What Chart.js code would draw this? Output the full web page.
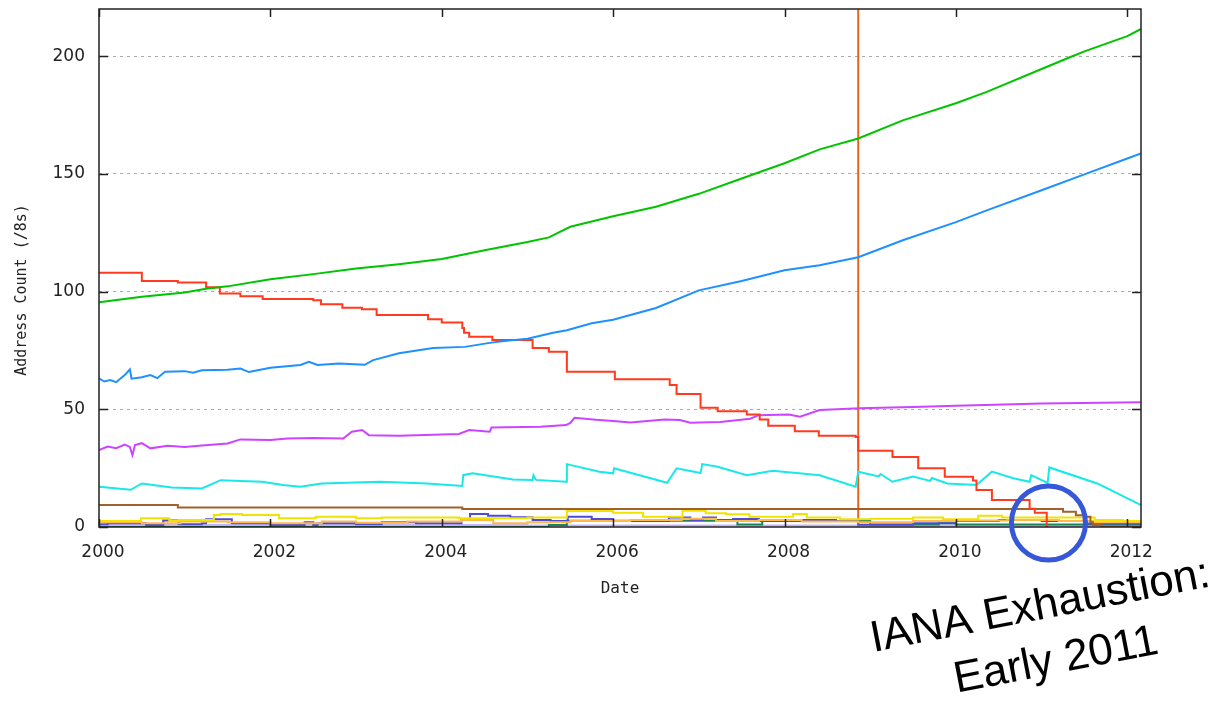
<!DOCTYPE html>
<html>
<head>
<meta charset="utf-8">
<script src="https://cdn.jsdelivr.net/npm/chart.js@4.4.1/dist/chart.umd.min.js"></script>
<style>
  html, body { margin: 0; padding: 0; background: #fff; }
  #wrap { width: 1219px; height: 702px; position: relative; }
</style>
</head>
<body>
<div id="wrap"><canvas id="addrChart"></canvas></div>
<script>
// tick labels
const xTicks = [2000, 2002, 2004, 2006, 2008, 2010, 2012];
const yTicks = [0, 50, 100, 150, 200];

// series: [year, count of /8s]
const allocated = [
  [2000.0, 95.4], [2000.5, 97.8], [2001.0, 99.6], [2001.25, 101.2], [2001.5, 102.2],
  [2002.0, 105.2], [2002.5, 107.4], [2003.0, 109.8], [2003.5, 111.6], [2004.0, 113.8],
  [2004.5, 117.5], [2005.0, 121], [2005.25, 123], [2005.5, 127.5], [2006.0, 132],
  [2006.5, 136], [2007.0, 141.5], [2007.5, 148], [2008.0, 154.5], [2008.41, 160.4],
  [2008.86, 165], [2009.38, 172.7], [2010.0, 180], [2010.36, 184.8], [2011.0, 194.5],
  [2011.33, 199.5], [2011.5, 202], [2012.0, 208.5], [2012.16, 211.5]
];
const advertised = [
  [2000.0, 63.1], [2000.06, 61.8], [2000.13, 62.4], [2000.2, 61.5], [2000.3, 64.5],
  [2000.36, 66.9], [2000.38, 63], [2000.5, 63.6], [2000.6, 64.5], [2000.68, 63.2],
  [2000.77, 65.9], [2001.0, 66.2], [2001.1, 65.5], [2001.2, 66.6], [2001.5, 66.8],
  [2001.65, 67.3], [2001.75, 65.8], [2002.0, 67.6], [2002.35, 68.8], [2002.45, 70.2],
  [2002.55, 68.8], [2002.8, 69.4], [2003.1, 68.9], [2003.2, 70.9], [2003.5, 73.8],
  [2003.9, 76], [2004.27, 76.5], [2004.56, 78.2], [2004.7, 78.9], [2005.0, 80],
  [2005.3, 82.5], [2005.46, 83.6], [2005.75, 86.5], [2006.0, 88], [2006.5, 93],
  [2007.0, 100.5], [2007.5, 104.5], [2008.0, 109], [2008.41, 111.2], [2008.86, 114.6],
  [2009.38, 121.8], [2010.0, 129.5], [2010.36, 134.5], [2011.0, 143], [2011.53, 150.2],
  [2012.0, 156.5], [2012.16, 158.7]
];
const ianaPool = [
  [2000.0, 108], [2000.5, 104.5], [2000.92, 103.8], [2001.25, 101.8], [2001.41, 99.2],
  [2001.65, 98], [2001.91, 96.8], [2002.5, 96.3], [2002.59, 94.6], [2002.84, 93.1],
  [2003.07, 92.5], [2003.24, 90], [2003.84, 88.2], [2004.0, 86.9], [2004.24, 84.5],
  [2004.26, 82.5], [2004.32, 80.8], [2004.59, 79.4], [2005.06, 76], [2005.25, 74.4],
  [2005.46, 65.9], [2006.02, 62.8], [2006.66, 60.3], [2006.74, 56.5], [2007.02, 50.6],
  [2007.22, 49.2], [2007.56, 47.8], [2007.71, 45.7], [2007.81, 43], [2008.12, 40.7],
  [2008.4, 38.8], [2008.83, 38.2], [2008.86, 32.4], [2009.26, 29.7], [2009.56, 25],
  [2009.87, 21.3], [2010.2, 19.8], [2010.24, 15.7], [2010.42, 11.5], [2010.86, 7.8],
  [2010.92, 6.1], [2011.06, 6.1], [2011.06, 0]
];
const unadvertised = [
  [2000.0, 32.7], [2000.1, 34.2], [2000.2, 33.5], [2000.3, 35], [2000.36, 34],
  [2000.39, 30.5], [2000.42, 34.8], [2000.5, 35.6], [2000.6, 33.4], [2000.8, 34.5],
  [2001.0, 34], [2001.2, 34.6], [2001.5, 35.5], [2001.65, 37.2], [2002.0, 36.9],
  [2002.2, 37.6], [2002.5, 37.8], [2002.85, 37.6], [2002.95, 40.5], [2003.07, 41.2],
  [2003.15, 39], [2003.5, 38.8], [2004.2, 39.5], [2004.32, 41.2], [2004.56, 40.5],
  [2004.58, 42.3], [2005.15, 42.6], [2005.45, 43.3], [2005.5, 44.2], [2005.55, 46.4],
  [2005.8, 45.5], [2006.0, 45], [2006.2, 44.4], [2006.6, 45.7], [2006.78, 45.4],
  [2006.9, 44.3], [2007.25, 44.6], [2007.6, 46], [2007.7, 47.5], [2008.05, 47.8],
  [2008.18, 46.8], [2008.41, 49.7], [2008.88, 50.4], [2009.5, 51], [2010.0, 51.5],
  [2011.0, 52.5], [2012.16, 53]
];
const rirPool = [
  [2000.0, 17.1], [2000.37, 15.8], [2000.5, 18.5], [2000.85, 16.8], [2001.2, 16.4],
  [2001.42, 19.9], [2001.9, 19.2], [2002.15, 17.8], [2002.35, 17.1], [2002.6, 18.5],
  [2003.28, 19.2], [2003.83, 18.5], [2004.24, 17.4], [2004.25, 22], [2004.36, 22.8],
  [2004.83, 20.2], [2005.06, 20], [2005.07, 22], [2005.1, 20], [2005.45, 19.2],
  [2005.46, 26.7], [2005.84, 23.5], [2006.0, 22.8], [2006.01, 24.9], [2006.63, 18.8],
  [2006.74, 24.9], [2007.02, 22.9], [2007.04, 26.7], [2007.22, 25.6], [2007.56, 22],
  [2007.71, 22.9], [2007.86, 23.9], [2008.14, 22.9], [2008.41, 22], [2008.83, 17.1],
  [2008.86, 23.5], [2009.1, 21.5], [2009.12, 22.5], [2009.26, 19.2], [2009.5, 21.4],
  [2009.7, 19.6], [2009.72, 20.8], [2009.9, 18.5], [2010.24, 17.8], [2010.42, 23.5],
  [2010.67, 20.7], [2010.86, 19.2], [2010.88, 22], [2011.07, 18.7], [2011.09, 25.3],
  [2011.65, 18.5], [2012.16, 9.3]
];
const reserved = [
  [2000.0, 9.3], [2000.92, 8.3], [2004.24, 7.6], [2011.25, 6.5], [2011.4, 5],
  [2011.5, 4.4], [2011.57, 2], [2011.6, 0.8], [2011.7, 0.2], [2012.16, 0.2]
];
const apnic = [
  [2000.0, 2.5], [2000.49, 3.7], [2000.82, 2.5], [2000.93, 3], [2001.34, 5.1],
  [2001.42, 5.5], [2001.67, 5.1], [2002.1, 3.7], [2002.53, 4.4], [2003.0, 3.7],
  [2003.3, 4], [2004.2, 3.7], [2005.0, 4], [2005.46, 6.8], [2006.0, 6],
  [2006.35, 4.4], [2006.81, 6.9], [2007.08, 5.8], [2007.32, 5.4], [2007.59, 4.4],
  [2008.1, 5.5], [2008.26, 4], [2008.65, 3.3], [2009.0, 3.5], [2009.5, 4],
  [2009.85, 3.3], [2010.26, 4.8], [2010.54, 4], [2011.62, 3], [2011.95, 2.5],
  [2012.16, 2.5]
];
const ripe = [
  [2000.0, 2], [2000.5, 1.6], [2000.95, 2.3], [2001.5, 2], [2002.0, 1.6],
  [2002.6, 2.3], [2003.0, 1.8], [2003.6, 2.3], [2004.23, 3], [2004.6, 1.6],
  [2005.0, 2], [2005.5, 2.5], [2006.2, 3], [2006.8, 3.5], [2007.2, 2.5],
  [2007.7, 3], [2008.2, 2.3], [2008.86, 2], [2009.5, 2.5], [2010.0, 2.8],
  [2010.6, 3], [2011.2, 2.5], [2011.6, 2], [2012.16, 1.8]
];
const arin = [
  [2000.0, 1.2], [2000.1, 1.6], [2000.55, 0.8], [2000.75, 2.8], [2000.93, 1.2],
  [2001.2, 1.6], [2001.25, 3.3], [2001.55, 1.6], [2002.0, 0.8], [2002.4, 2],
  [2002.5, 0.8], [2002.55, 1.6], [2003.0, 1.2], [2003.3, 2], [2003.7, 1.6],
  [2004.23, 3.4], [2004.33, 5.5], [2004.54, 4.8], [2004.8, 4.1], [2005.06, 3],
  [2005.27, 2.5], [2005.47, 4.4], [2005.75, 3.4], [2006.0, 2.5], [2006.65, 4],
  [2006.9, 3], [2007.05, 4], [2007.2, 3], [2007.4, 3.4], [2007.7, 2.5],
  [2008.1, 3], [2008.6, 2.5], [2008.86, 1], [2009.5, 1.6], [2010.0, 2.5],
  [2010.5, 3], [2011.0, 2.5], [2011.5, 1.5], [2012.16, 1.2]
];
const lacnic = [
  [2000.0, 0], [2005.25, 0.8], [2005.46, 2.7], [2007.45, 1.1], [2007.74, 2.5],
  [2009.0, 1.1], [2009.8, 1.6], [2010.0, 1.1], [2012.16, 1.1]
];
const afrinic = [[2000.0, 0.8], [2005.0, 0.6], [2008.86, 0.5], [2012.16, 0.5]];
const markerLine = [[2008.86, 0], [2008.86, 220]];

const circleAt = { x: 2011.08, y: 1.7 };

function series(label, points, color, width, stepped) {
  return {
    label: label,
    data: points.map(([x, y]) => ({ x: x, y: y })),
    borderColor: color,
    backgroundColor: color,
    borderWidth: width,
    stepped: stepped ? "before" : false, // hold value until next point
    pointRadius: 0,
    tension: 0,
    fill: false,
  };
}

const gnuplotDecor = {
  id: "gnuplotDecor",
  afterDatasetsDraw(chart) {
    const { ctx, chartArea: a, scales } = chart;
    const xs = scales.x, ys = scales.y;
    ctx.save();
    ctx.strokeStyle = "#222";
    ctx.lineWidth = 1.5;
    ctx.strokeRect(a.left, a.top, a.right - a.left, a.bottom - a.top);
    ctx.beginPath();
    xTicks.forEach((v) => {
      const px = Math.round(xs.getPixelForValue(v)) + 0.5;
      ctx.moveTo(px, a.bottom); ctx.lineTo(px, a.bottom - 8);
      ctx.moveTo(px, a.top); ctx.lineTo(px, a.top + 8);
    });
    yTicks.forEach((v) => {
      const py = Math.round(ys.getPixelForValue(v)) + 0.5;
      ctx.moveTo(a.left, py); ctx.lineTo(a.left + 9, py);
      ctx.moveTo(a.right, py); ctx.lineTo(a.right - 9, py);
    });
    ctx.stroke();

    // y axis title, gnuplot centres it a bit below the plot middle
    ctx.fillStyle = "#222";
    ctx.font = "15px 'DejaVu Sans Mono', monospace";
    ctx.textAlign = "center";
    ctx.textBaseline = "middle";
    ctx.translate(22, (a.top + a.bottom) / 2 + 22);
    ctx.rotate(-Math.PI / 2);
    ctx.fillText("Address Count (/8s)", 0, 0);
    ctx.restore();
  },
  afterDraw(chart) {
    const { ctx, scales } = chart;
    const cx = scales.x.getPixelForValue(circleAt.x);
    const cy = scales.y.getPixelForValue(circleAt.y);
    ctx.save();
    ctx.strokeStyle = "#3557d8";
    ctx.lineWidth = 5;
    ctx.beginPath();
    ctx.arc(cx, cy, 37, 0, Math.PI * 2);
    ctx.stroke();

    ctx.fillStyle = "#000";
    ctx.font = "44px 'Liberation Sans', Arial, sans-serif";
    ctx.textAlign = "center";
    ctx.textBaseline = "alphabetic";
    const angle = -11 * Math.PI / 180;
    [["IANA Exhaustion:", -6, 96], ["Early 2011", 10, 150]].forEach(([t, dx, dy]) => {
      ctx.save();
      ctx.translate(cx + dx, cy + dy);
      ctx.rotate(angle);
      ctx.fillText(t, 0, 0);
      ctx.restore();
    });
    ctx.restore();
  },
};

const tickFont = { family: "'DejaVu Sans', sans-serif", size: 17 };
const titleFont = { family: "'DejaVu Sans Mono', monospace", size: 16 };

new Chart(document.getElementById("addrChart"), {
  type: "line",
  data: {
    datasets: [
      series("Allocated", allocated, "#00c400", 2, false),
      series("Advertised", advertised, "#1e90ff", 2, false),
      series("IANA Pool", ianaPool, "#ff3a1e", 2, true),
      series("Unadvertised", unadvertised, "#cc44ff", 2, false),
      series("RIR Pool", rirPool, "#18e8e8", 2, false),
      series("Reserved", reserved, "#a0622a", 2, true),
      series("APNIC", apnic, "#f2e200", 2, true),
      series("RIPE NCC", ripe, "#ffb84a", 2, true),
      series("ARIN", arin, "#4c4cd8", 2, true),
      series("LACNIC", lacnic, "#18875a", 2, true),
      series("AFRINIC", afrinic, "#c4b4ff", 2, true),
      series("Marker", markerLine, "#e8641e", 2, false),
    ],
  },
  options: {
    responsive: true,
    maintainAspectRatio: false,
    devicePixelRatio: 1,
    animation: false,
    layout: { padding: { top: 9, right: 78, bottom: 0, left: 0 } },
    plugins: { legend: { display: false }, tooltip: { enabled: false } },
    scales: {
      x: {
        type: "linear",
        min: 2000,
        max: 2012.16,
        afterBuildTicks: (s) => { s.ticks = xTicks.map((v) => ({ value: v })); },
        afterFit: (s) => { s.height = 175; s.paddingLeft = 0; s.paddingRight = 0; },
        grid: { display: false, drawTicks: false },
        border: { display: false },
        ticks: {
          font: tickFont,
          color: "#222",
          padding: 15,
          labelOffset: 4,
          maxRotation: 0,
          callback: (v) => String(v),
        },
        title: {
          display: true,
          text: "Date",
          font: titleFont,
          color: "#222",
          padding: { top: 0, bottom: 104 },
        },
      },
      y: {
        min: 0,
        max: 220,
        afterBuildTicks: (s) => { s.ticks = yTicks.map((v) => ({ value: v })); },
        afterFit: (s) => { s.width = 99; s.paddingTop = 0; s.paddingBottom = 0; },
        grid: {
          drawTicks: false,
          color: (c) => (c.tick && c.tick.value === 0 ? "rgba(0,0,0,0)" : "#aaaaaa"),
          lineWidth: 1,
        },
        border: { display: false, dash: [3, 4] },
        ticks: {
          font: tickFont,
          color: "#222",
          padding: 14,
          callback: (v) => String(v),
        },
      },
    },
  },
  plugins: [gnuplotDecor],
});
</script>
</body>
</html>
